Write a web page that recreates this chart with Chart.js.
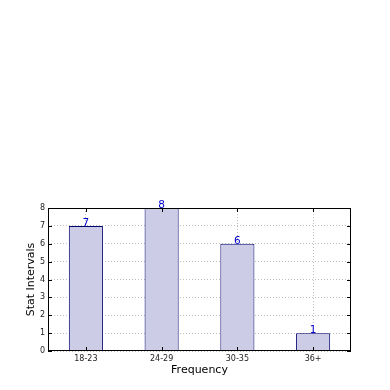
<!DOCTYPE html>
<html>
<head>
<meta charset="utf-8">
<script src="https://cdn.jsdelivr.net/npm/chart.js@4"></script>
<style>
  html, body { margin: 0; padding: 0; background: #fff; }
  #wrap { width: 390px; height: 390px; }
</style>
</head>
<body>
<div id="wrap"><canvas id="chart-item" width="390" height="390"></canvas></div>
<script>
// data
var categories = ['18-23', '24-29', '30-35', '36+']
var counts = [7, 8, 6, 1]
var yTicks = [0, 1, 2, 3, 4, 5, 6, 7, 8]

// frame, inward tick marks and value labels
var framePlugin = {
    id: 'frame',
    afterDraw: function (chart) {
        var c = chart.ctx
        var area = chart.chartArea
        var xs = chart.scales.x
        var ys = chart.scales.y
        c.save()
        c.strokeStyle = '#000'
        c.lineWidth = 1
        c.strokeRect(area.left + 0.5, area.top + 0.5, area.right - area.left - 1, area.bottom - area.top - 1)
        c.beginPath()
        yTicks.forEach(function (v) {
            var py = Math.round(ys.getPixelForValue(v)) + 0.5
            c.moveTo(area.left, py); c.lineTo(area.left + 4, py)
            c.moveTo(area.right, py); c.lineTo(area.right - 4, py)
        })
        categories.forEach(function (cat, i) {
            var px = Math.round(xs.getPixelForValue(i)) + 0.5
            c.moveTo(px, area.bottom); c.lineTo(px, area.bottom - 4)
            c.moveTo(px, area.top); c.lineTo(px, area.top + 4)
        })
        c.stroke()

        var meta = chart.getDatasetMeta(0)
        c.fillStyle = '#0000cc'
        c.font = '10.5px "DejaVu Sans"'
        c.textAlign = 'center'
        c.textBaseline = 'alphabetic'
        meta.data.forEach(function (bar, i) {
            c.fillText(String(counts[i]), bar.x, bar.y)
        })
        c.restore()
    }
}

const ctx = document.getElementById('chart-item').getContext('2d')
const myChart = new Chart(ctx, {
    type: 'bar',
    data: {
        labels: categories,
        datasets: [{
            data: counts,
            backgroundColor: '#ccccE6',
            borderColor: '#000070',
            borderWidth: 1,
            barPercentage: 0.45,
            categoryPercentage: 1
        }]
    },
    options: {
        responsive: false,
        animation: false,
        layout: { padding: { top: 208, right: 39, left: 0, bottom: 0 } },
        plugins: {
            legend: { display: false },
            tooltip: { enabled: false }
        },
        scales: {
            x: {
                offset: true,
                grid: { offset: false, color: 'rgba(0,0,0,0.25)', drawTicks: false },
                border: { display: false, dash: [1, 2] },
                ticks: { color: '#222', font: { family: 'DejaVu Sans', size: 8 }, padding: 3 },
                title: { display: true, text: 'Frequency', color: '#000', font: { family: 'DejaVu Sans', size: 11 }, padding: { top: 0, bottom: 13 } },
                afterFit: function (scale) { scale.height = 39 }
            },
            y: {
                min: 0,
                max: 8,
                grid: { color: 'rgba(0,0,0,0.25)', drawTicks: false },
                border: { display: false, dash: [1, 2] },
                ticks: { stepSize: 1, color: '#222', font: { family: 'DejaVu Sans', size: 8 }, padding: 3 },
                title: { display: true, text: 'Stat Intervals', color: '#000', font: { family: 'DejaVu Sans', size: 11 }, padding: { top: 25, bottom: 0 } },
                afterFit: function (scale) { scale.width = 48 }
            }
        }
    },
    plugins: [framePlugin]
})
</script>
</body>
</html>
